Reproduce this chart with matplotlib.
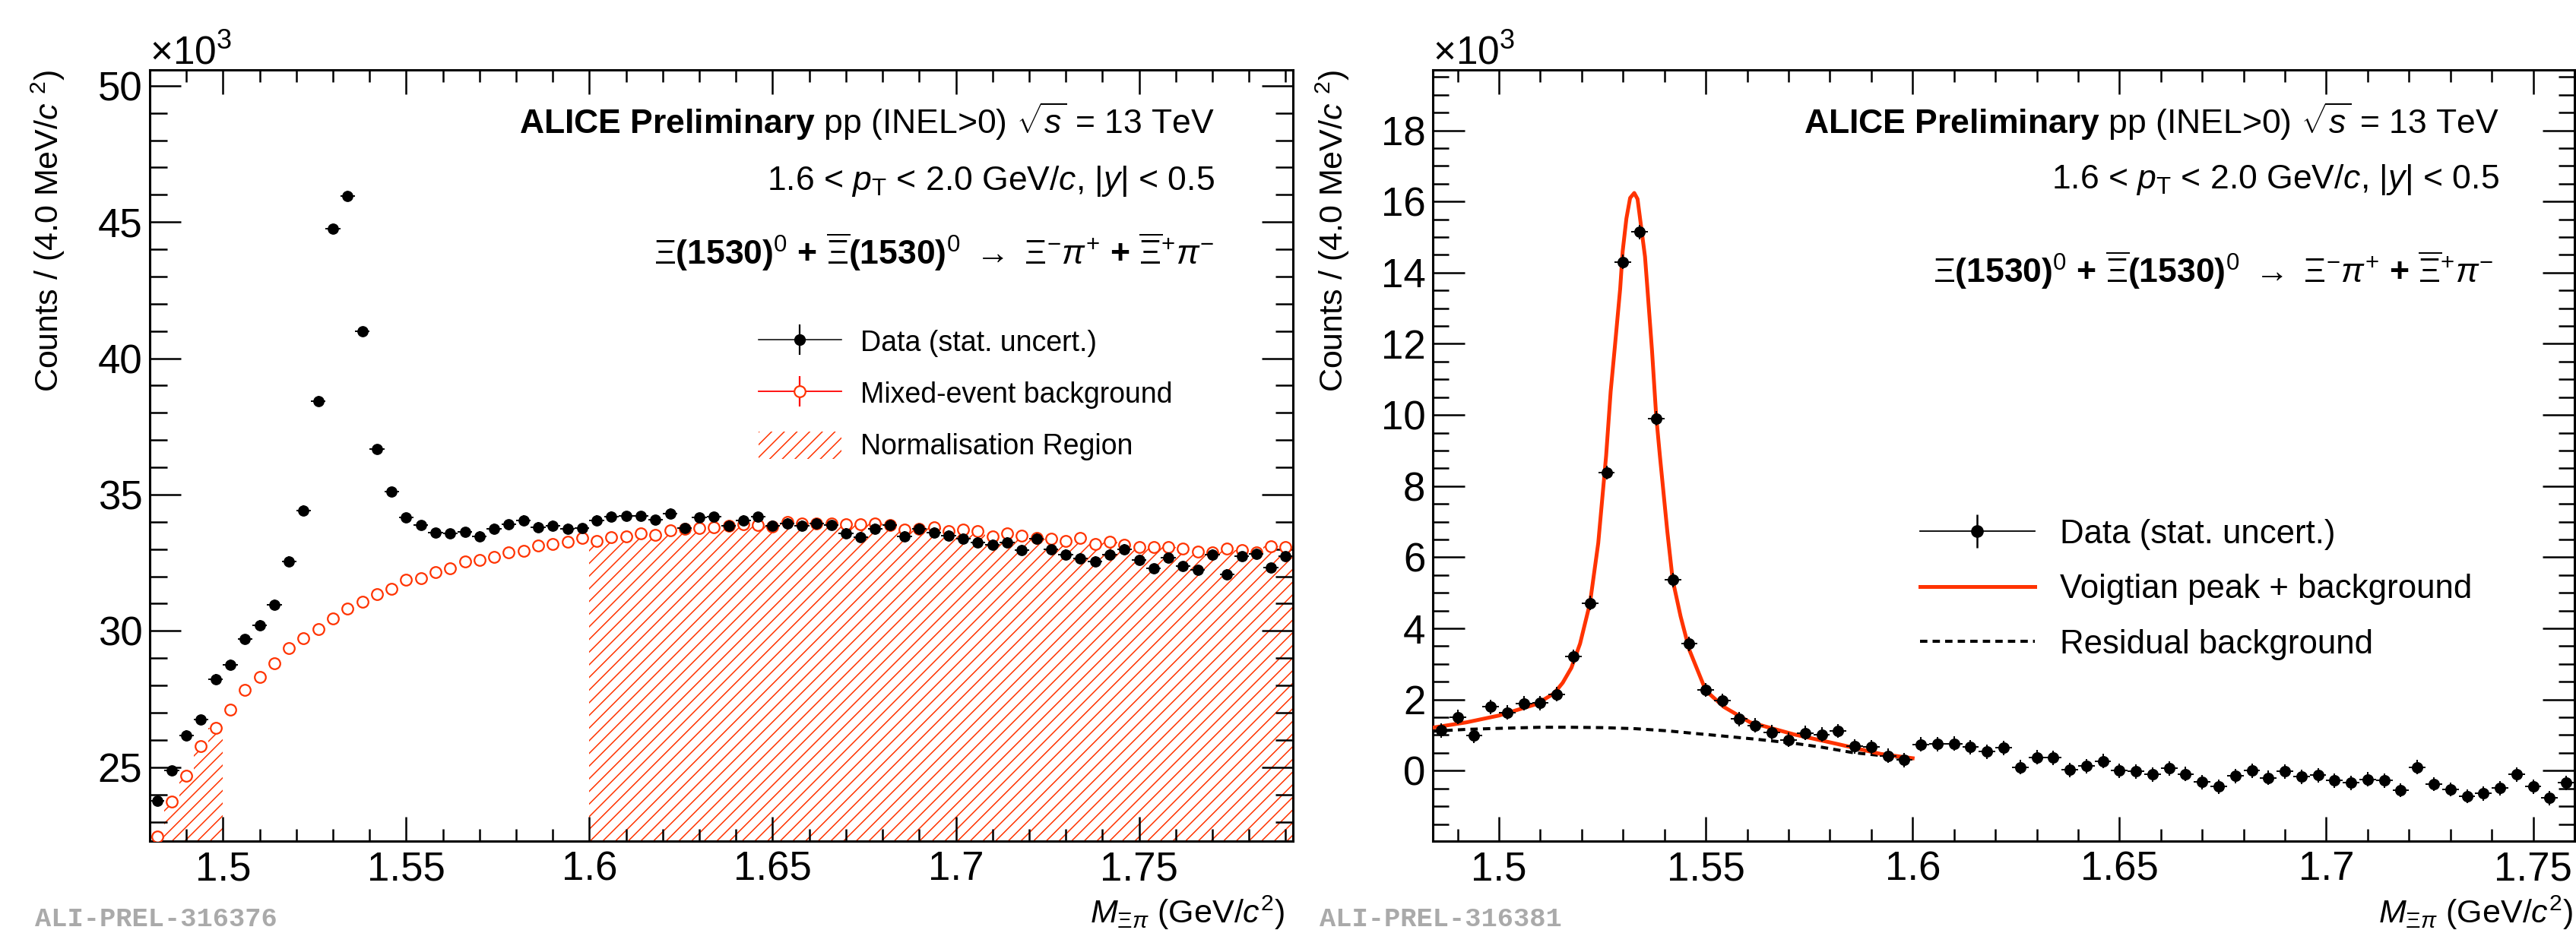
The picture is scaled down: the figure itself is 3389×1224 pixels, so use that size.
import numpy as np
import matplotlib
matplotlib.use("Agg")
import matplotlib.pyplot as plt
from matplotlib.ticker import MultipleLocator, FuncFormatter
from matplotlib.lines import Line2D
from matplotlib.patches import Patch

plt.rcParams['font.family'] = ['Liberation Sans', 'DejaVu Sans']
plt.rcParams['mathtext.fontset'] = 'custom'
plt.rcParams['mathtext.rm'] = 'Liberation Sans'
plt.rcParams['mathtext.it'] = 'Liberation Sans:italic'
plt.rcParams['mathtext.bf'] = 'Liberation Sans:bold'
plt.rcParams['hatch.linewidth'] = 1.1
plt.rcParams['hatch.color'] = '#ff3300'

# ---------------- data: left panel (x10^3 counts per 4 MeV/c^2) ----------------
left_bin_first_centre = 1.482
left_bin_width = 0.004
left_data = [23.78, 24.87, 26.17, 26.74, 28.24, 28.77, 29.69, 30.21, 30.97, 32.55,
             34.42, 38.44, 44.75, 45.96, 40.98, 36.67, 35.10, 34.16, 33.88, 33.60,
             33.57, 33.63, 33.48, 33.75, 33.90, 34.06, 33.81, 33.86, 33.75, 33.76,
             34.06, 34.20, 34.21, 34.21, 34.07, 34.31, 33.77, 34.16, 34.19, 33.86,
             34.06, 34.19, 33.86, 33.95, 33.86, 33.95, 33.88, 33.58, 33.45, 33.75,
             33.88, 33.47, 33.75, 33.61, 33.50, 33.39, 33.25, 33.17, 33.25, 32.97,
             33.39, 32.99, 32.80, 32.66, 32.55, 32.79, 33.00, 32.61, 32.29, 32.70,
             32.38, 32.23, 32.80, 32.08, 32.74, 32.83, 32.32, 32.74]
left_mixed = [22.47, 23.74, 24.70, 25.76, 26.44, 27.11, 27.83, 28.32, 28.81, 29.37,
              29.72, 30.06, 30.46, 30.81, 31.08, 31.34, 31.53, 31.88, 31.93, 32.17,
              32.29, 32.55, 32.59, 32.71, 32.89, 32.93, 33.12, 33.19, 33.28, 33.41,
              33.31, 33.44, 33.46, 33.58, 33.53, 33.68, 33.75, 33.77, 33.80, 33.86,
              33.91, 33.88, 33.84, 33.99, 33.95, 33.95, 33.95, 33.91, 33.91, 33.95,
              33.88, 33.72, 33.75, 33.80, 33.66, 33.72, 33.66, 33.47, 33.58, 33.50,
              33.41, 33.38, 33.30, 33.41, 33.19, 33.27, 33.17, 33.09, 33.09, 33.09,
              33.03, 32.91, 32.88, 33.03, 32.97, 32.88, 33.11, 33.09]
left_data_err = 0.18
left_mixed_err = 0.05
norm_regions = [(1.48, 1.50), (1.60, 1.792)]

# ---------------- data: right panel ----------------
right_bin_first_centre = 1.486
right_bin_width = 0.004
right_data = [1.13, 1.51, 0.98, 1.79, 1.64, 1.89, 1.90, 2.15, 3.20, 4.71,
              8.38, 14.30, 15.14, 9.90, 5.36, 3.57, 2.27, 1.97, 1.45, 1.27,
              1.08, 0.87, 1.06, 1.02, 1.12, 0.68, 0.66, 0.42, 0.30, 0.74,
              0.75, 0.76, 0.66, 0.53, 0.64, 0.10, 0.38, 0.36, 0.02, 0.13,
              0.27, 0.00, -0.02, -0.11, 0.06, -0.09, -0.32, -0.45, -0.15, 0.00,
              -0.20, -0.02, -0.17, -0.13, -0.28, -0.34, -0.24, -0.28, -0.55, 0.10,
              -0.38, -0.53, -0.72, -0.64, -0.49, -0.11, -0.45, -0.77, -0.34]
right_data_err = 0.2

fit_x = [1.484, 1.4922, 1.500, 1.509, 1.5133, 1.5154, 1.5175, 1.5196, 1.522, 1.524,
         1.5259, 1.527, 1.528, 1.5293, 1.5299, 1.5308, 1.5317, 1.5327, 1.5335, 1.5345,
         1.5353, 1.5359, 1.5370, 1.5380, 1.5389, 1.5407, 1.5420, 1.5439, 1.546, 1.550,
         1.5544, 1.5607, 1.5713, 1.5818, 1.5923, 1.600]
fit_y = [1.21, 1.36, 1.55, 1.87, 2.17, 2.47, 2.89, 3.57, 4.71, 6.40,
         8.85, 10.66, 11.90, 13.55, 14.60, 15.52, 16.10, 16.24, 16.07, 15.17,
         14.45, 13.53, 11.80, 9.98, 8.85, 6.72, 5.36, 4.34, 3.40, 2.25,
         1.79, 1.36, 1.02, 0.75, 0.47, 0.35]

bkg_x = [1.484, 1.492, 1.500, 1.510, 1.5175, 1.525, 1.533, 1.5407, 1.547, 1.5536,
         1.5625, 1.5713, 1.578, 1.5854, 1.592, 1.5997]
bkg_y = [1.11, 1.16, 1.19, 1.22, 1.22, 1.21, 1.18, 1.12, 1.05, 0.98,
         0.88, 0.77, 0.66, 0.51, 0.43, 0.34]

RED = '#ff3300'

left_x = np.round(left_bin_first_centre + left_bin_width * np.arange(len(left_data)), 4)
right_x = np.round(right_bin_first_centre + right_bin_width * np.arange(len(right_data)), 4)
left_edges = np.round(left_x[0] - left_bin_width / 2 + left_bin_width * np.arange(len(left_data) + 1), 4)

fig = plt.figure(figsize=(33.89, 12.24), dpi=100)
axL = fig.add_axes([0.05813, 0.09559, 0.44379, 0.82925])
axR = fig.add_axes([0.55621, 0.09559, 0.44320, 0.82925])

fmt = FuncFormatter(lambda v, p: ("%.2f" % v).rstrip('0').rstrip('.'))


def style_axes(ax, ymaj, ymin, ylen_maj, ylen_min):
    for s in ax.spines.values():
        s.set_linewidth(2.2)
    ax.xaxis.set_major_locator(MultipleLocator(0.05))
    ax.xaxis.set_minor_locator(MultipleLocator(0.01))
    ax.yaxis.set_major_locator(MultipleLocator(ymaj))
    ax.yaxis.set_minor_locator(MultipleLocator(ymin))
    ax.xaxis.set_major_formatter(fmt)
    ax.tick_params(which='both', direction='in', top=True, right=True, width=1.8,
                   labelsize=38)
    ax.tick_params(axis='x', which='major', length=23, pad=9)
    ax.tick_params(axis='x', which='minor', length=11.5)
    ax.tick_params(axis='y', which='major', length=ylen_maj, pad=7)
    ax.tick_params(axis='y', which='minor', length=ylen_min)


# ---------------- left panel ----------------
for lo, hi in norm_regions:
    i0 = int(np.argmin(np.abs(left_edges - lo)))
    i1 = int(np.argmin(np.abs(left_edges - hi)))
    xs = left_edges[i0:i1 + 1]
    ys = np.append(np.array(left_mixed[i0:i1]), left_mixed[i1 - 1])
    axL.fill_between(xs, 0, ys, step='post', facecolor='none', edgecolor=RED,
                     hatch='//', linewidth=0, zorder=1)

axL.errorbar(left_x, left_mixed, yerr=left_mixed_err, fmt='o', ms=10.5, mfc='white',
             mec=RED, mew=1.6, ecolor=RED, elinewidth=1.2, capsize=0, zorder=3)
axL.errorbar(left_x, left_data, xerr=left_bin_width / 2, yerr=left_data_err, fmt='o',
             ms=9.6, color='k', ecolor='k', elinewidth=1.4, capsize=0, zorder=4)

axL.set_xlim(1.48, 1.792)
axL.set_ylim(22.29, 50.58)
style_axes(axL, 5, 1, 29.5, 16.5)

# ---------------- right panel ----------------
axR.plot(fit_x, fit_y, color=RED, lw=3.6, zorder=3, solid_joinstyle='round')
axR.plot(bkg_x, bkg_y, color='k', lw=2.9, ls=(0, (2.4, 1.7)), zorder=2)
axR.errorbar(right_x, right_data, xerr=right_bin_width / 2, yerr=right_data_err, fmt='o',
             ms=9.8, color='k', ecolor='k', elinewidth=1.4, capsize=0, zorder=4)
axR.set_xlim(1.484, 1.760)
axR.set_ylim(-1.98, 19.7)
style_axes(axR, 2, 0.5, 30, 15)

# ---------------- texts ----------------
title1 = r"$\mathbf{ALICE\ Preliminary}$ pp (INEL>0) $\sqrt{s}$ = 13 TeV"
title2 = r"1.6 < $p_{\mathrm{T}}$ < 2.0 GeV/$c$, |$y$| < 0.5"
title3 = (r"$\Xi$(1530)$^{0}$ + $\overline{\Xi}$(1530)$^{0}$ $\rightarrow$ "
          r"$\Xi^{-}\pi^{+}$ + $\overline{\Xi}^{+}\pi^{-}$")
ylab = r"Counts / (4.0 MeV/$c$ $^{2}$)"
xlab = r"$M_{\Xi\pi}$ (GeV/$c^{2}$)"

for ax, xr, y1, y2, y3, xr3, ylx, xlx, tag, tagx in [
        (axL, 0.9315, 0.9172, 0.8443, 0.7478, 0.9315, -0.0891, 0.9927, 'ALI-PREL-316376', -0.1004),
        (axR, 0.9341, 0.9172, 0.8463, 0.7240, 0.9288, -0.0879, 0.9987, 'ALI-PREL-316381', -0.0995)]:
    ax.text(xr, y1, title1, transform=ax.transAxes, ha='right', va='baseline', fontsize=32)
    ax.text(xr, y2, title2, transform=ax.transAxes, ha='right', va='baseline', fontsize=32)
    ax.text(xr3, y3, title3, transform=ax.transAxes, ha='right', va='baseline', fontsize=32,
            fontweight='bold')
    ax.text(ylx, 1.0, ylab, transform=ax.transAxes, ha='center', va='top', rotation=90,
            fontsize=31)
    ax.text(xlx, -0.0926, xlab, transform=ax.transAxes, ha='right', va='center', fontsize=31)
    ax.text(0.0, 1.007, r"$\times$10$^{3}$", transform=ax.transAxes, ha='left',
            va='baseline', fontsize=37)
    ax.text(tagx, -0.1005, tag, transform=ax.transAxes, ha='left', va='center',
            fontsize=25.5, color='#aaaaaa', fontweight='bold',
            family=['Liberation Mono', 'DejaVu Sans Mono'])

# ---------------- legends ----------------
hL_data = (Line2D([], [], color='k', lw=1.1),
           Line2D([], [], color='k', marker='|', ms=29, mew=1.6, ls='none'),
           Line2D([], [], color='k', marker='o', ms=10, ls='none'))
hL_mix = (Line2D([], [], color='#ff0000', lw=1.3),
          Line2D([], [], color='#ff0000', marker='|', ms=29, mew=1.6, ls='none'),
          Line2D([], [], marker='o', ms=10.5, mfc='white', mec=RED, mew=1.6, ls='none'))
hL_norm = Patch(facecolor='none', edgecolor=RED, hatch='//', linewidth=0)
axL.legend([hL_data, hL_mix, hL_norm],
           ['Data (stat. uncert.)', 'Mixed-event background', 'Normalisation Region'],
           loc='upper left', bbox_to_anchor=(0.5326, 0.6655), frameon=False, fontsize=27,
           handlelength=2.9, handletextpad=0.66, labelspacing=0.78, handleheight=1.1,
           borderpad=0, borderaxespad=0)

hR_data = (Line2D([], [], color='k', lw=1.3),
           Line2D([], [], color='k', marker='|', ms=32, mew=1.8, ls='none'),
           Line2D([], [], color='k', marker='o', ms=11, ls='none'))
hR_fit = Line2D([], [], color=RED, lw=3.6)
hR_bkg = Line2D([], [], color='k', lw=2.9, ls=(0, (2.4, 1.7)))
axR.legend([hR_data, hR_fit, hR_bkg],
           ['Data (stat. uncert.)', 'Voigtian peak + background', 'Residual background'],
           loc='upper left', bbox_to_anchor=(0.4268, 0.4182), frameon=False, fontsize=31.5,
           handlelength=3.44, handletextpad=0.77, labelspacing=0.72,
           borderpad=0, borderaxespad=0)

fig.savefig('out.png', dpi=100)
